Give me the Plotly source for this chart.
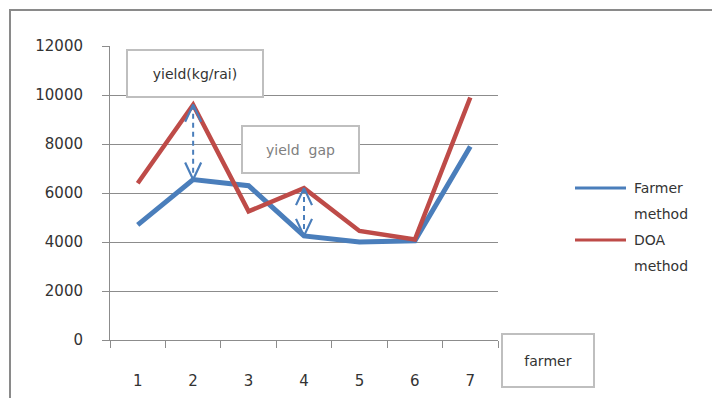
import plotly.graph_objects as go

# ---- data -------------------------------------------------------------
farmers = [1, 2, 3, 4, 5, 6, 7]
farmer_method = [4700, 6550, 6300, 4250, 4000, 4050, 7900]
doa_method = [6400, 9600, 5250, 6200, 4450, 4100, 9900]
series_names = ["Farmer method", "DOA method"]
gap_farmers = [2, 4]          # farmers whose yield gap is marked
y_ticks = [0, 2000, 4000, 6000, 8000, 10000, 12000]

# ---- geometry ---------------------------------------------------------
W, H = 712, 398
PL, PR, PT, PB = 110, 498, 46, 340      # plot area in pixels
Y_MAX = 12000
X_MIN, X_MAX = 0.5, 7.5

BLUE = "#4A7EBB"
RED = "#BE4B48"
GRID = "#8C8C8C"
TEXT = "#333333"
FONT = "DejaVu Sans"


def px(xp):
    return (xp - PL) / (PR - PL)


def py(yp):
    return (PB - yp) / (PB - PT)


# data units per pixel
DX = (X_MAX - X_MIN) / (PR - PL)
DY = Y_MAX / (PB - PT)

fig = go.Figure()

fig.add_trace(go.Scatter(x=farmers, y=farmer_method, mode="lines",
                         name=series_names[0],
                         line=dict(color=BLUE, width=5), showlegend=False))
fig.add_trace(go.Scatter(x=farmers, y=doa_method, mode="lines",
                         name=series_names[1],
                         line=dict(color=RED, width=4.5), showlegend=False))

# dashed double-headed arrows showing the yield gap
head_w, head_h = 8 * DX, 17 * DY
for f in gap_farmers:
    i = farmers.index(f)
    lo, hi = farmer_method[i], doa_method[i]
    fig.add_trace(go.Scatter(x=[f, f], y=[hi, lo], mode="lines",
                             line=dict(color=BLUE, width=2, dash="5px,4px"),
                             showlegend=False, hoverinfo="skip"))
    for tip, sgn in ((hi, -1), (lo, 1)):
        fig.add_trace(go.Scatter(
            x=[f - head_w, f, f + head_w],
            y=[tip + sgn * head_h, tip, tip + sgn * head_h],
            mode="lines", line=dict(color=BLUE, width=2.2),
            showlegend=False, hoverinfo="skip"))

shapes = [
    # outer chart frame
    dict(type="rect", xref="paper", yref="paper",
         x0=px(10), x1=px(800), y0=py(10), y1=py(460),
         line=dict(color="#8A8A8A", width=2), fillcolor="rgba(0,0,0,0)",
         layer="below"),
]

annotations = []


def text_box(text, x0, y0, x1, y1, color, size):
    annotations.append(dict(
        xref="paper", yref="paper", x=px((x0 + x1) / 2), y=py((y0 + y1) / 2),
        xanchor="center", yanchor="middle", text=text, showarrow=False,
        width=x1 - x0 - 2, height=y1 - y0 - 2, borderpad=0,
        bordercolor="#BFBFBF", borderwidth=2, bgcolor="white",
        font=dict(family=FONT, size=size, color=color)))


text_box("yield(kg/rai)", 127, 50, 263, 97, TEXT, 14)
text_box("yield&nbsp;&nbsp;gap", 242, 126, 359, 173, "#808080", 14)
text_box("farmer", 502, 334, 594, 387, TEXT, 14)

# legend drawn beside the plot
legend_rows = [(188, BLUE), (240, RED)]
for name, (row_y, color) in zip(series_names, legend_rows):
    shapes.append(dict(type="line", xref="paper", yref="paper",
                       x0=px(575), x1=px(626), y0=py(row_y), y1=py(row_y),
                       line=dict(color=color, width=3)))
    for k, word in enumerate(name.split(" ")):
        annotations.append(dict(
            xref="paper", yref="paper", x=px(632), y=py(row_y + 26 * k),
            xanchor="left", yanchor="middle", text=word, showarrow=False,
            font=dict(family=FONT, size=14, color=TEXT)))

fig.update_layout(
    width=W, height=H,
    margin=dict(l=PL, r=W - PR, t=PT, b=H - PB, autoexpand=False),
    paper_bgcolor="white", plot_bgcolor="white",
    font=dict(family=FONT, size=15, color=TEXT),
    shapes=shapes, annotations=annotations,
    xaxis=dict(range=[X_MIN, X_MAX], tickmode="array", tickvals=farmers,
               ticktext=[str(f) for f in farmers], ticks="",
               showgrid=False, zeroline=False, showline=True,
               linecolor=GRID, linewidth=1, ticklabelstandoff=27,
               automargin=False,
               minor=dict(tick0=0.5, dtick=1, ticks="outside", ticklen=7,
                          tickcolor=GRID, showgrid=False),
               fixedrange=True),
    yaxis=dict(range=[0, Y_MAX], tickmode="array", tickvals=y_ticks,
               ticktext=[str(v) for v in y_ticks],
               ticks="outside", ticklen=7, tickcolor=GRID,
               showgrid=True, gridcolor=GRID, gridwidth=1,
               zeroline=False, showline=True, linecolor=GRID, linewidth=1,
               ticklabelstandoff=16, automargin=False, fixedrange=True),
)

fig.write_html("out.html")
